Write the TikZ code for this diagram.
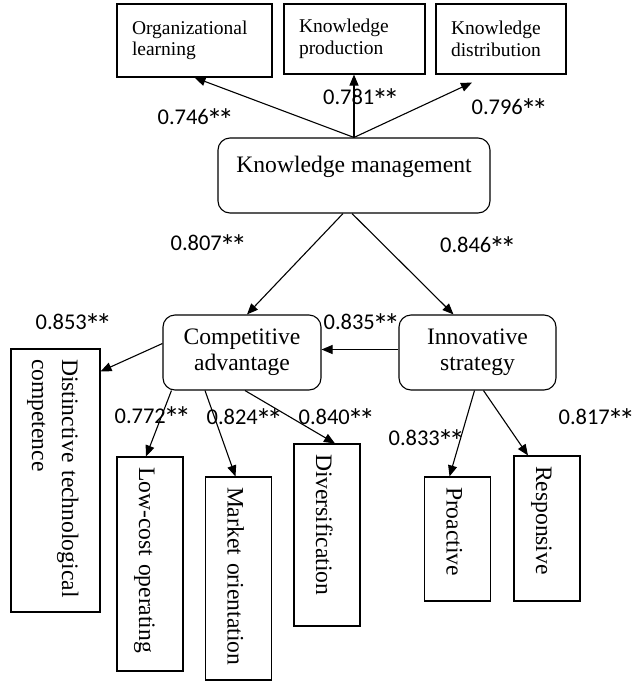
\documentclass[tikz,border=0pt]{standalone}
\usepackage{fontspec}
\setmainfont{Liberation Serif}
\newfontfamily\coeffont{Carlito}
\usetikzlibrary{arrows.meta,calc}
\newcommand\sigstar{\makebox[0.5em]{\smash{\raisebox{-0.29em}{\scalebox{1.43}{*}}}}}
\tikzset{
    kmmodel/.style={
        x=1pt, y=-1pt,
        every path/.style={line width=1.1pt},
        topbox/.style={draw, rectangle, align=left, inner xsep=15pt,
            font=\fontsize{19.5}{21.5}\selectfont},
        mainbox/.style={draw, rectangle, rounded corners=12pt, align=center,
            minimum height=75pt, font=\fontsize{23.6}{26}\selectfont},
        dimbox/.style={draw, rectangle, rotate=-90, align=left,
            inner xsep=10pt, inner ysep=0pt, text height=44pt, text depth=22pt,
            font=\fontsize{23.6}{30}\selectfont},
        coef/.style={inner sep=0pt, font=\coeffont\fontsize{22.5}{24}\selectfont},
        link/.style={-{Triangle[length=11pt, width=9pt]}},
    },
}
\begin{document}
\begin{tikzpicture}[kmmodel]
    \useasboundingbox (0,0) rectangle (635,681);

    \node[topbox, text width=125pt, minimum height=73pt] (org) at (194.5,40.5) {Organizational\\learning};
    \node[topbox, text width=111pt, minimum height=70pt] (kp)  at (354.5,39)   {Knowledge\\production};
    \node[topbox, text width=100pt, minimum height=70pt] (kd)  at (501,39)     {Knowledge\\distribution};

    \node[mainbox, minimum width=272pt, inner ysep=0pt, text height=34pt, text depth=41pt]
        (km) at (354,175.5) {Knowledge management};
    \node[mainbox, minimum width=158pt] (ca) at (242,352.5)   {Competitive\\advantage};
    \node[mainbox, minimum width=157pt] (is) at (477.5,352.5) {Innovative\\strategy};

    \node[dimbox, text width=243pt, text height=38pt, text depth=51pt]
        (dtc) at (55.5,480.5) {Distinctive technological\\competence};
    \node[dimbox, text width=194pt] (lowcost) at (150,564)   {Low-cost operating};
    \node[dimbox, text width=183pt] (mo)      at (238.5,578.5) {Market orientation};
    \node[dimbox, text width=162pt] (div)     at (327,535)   {Diversification};
    \node[dimbox, text width=104pt] (pro)     at (457.5,539) {Proactive};
    \node[dimbox, text width=125pt] (resp)    at (547,528.5) {Responsive};

    \coordinate (kdend) at ($(kd.south)+(-29,8)$);
    \draw[link] (km.north) -- (org.south);
    \draw[link] (km.north) -- (km.north |- kp.south);
    \draw[link] (km.north) -- (kdend);

    \draw[link] ([xshift=-11pt]km.south) -- ([xshift=5pt]ca.north);
    \draw[link] ([xshift=-2pt]km.south) -- ([xshift=-24pt]is.north);
    \draw[link] ([yshift=3pt]is.west) -- ([yshift=3pt]ca.east);

    \draw[link] ([yshift=9pt]ca.west) -- ($(dtc.north west)+(0,23)$);
    \draw[link] ([xshift=9pt]ca.south west) -- ([xshift=-4pt]lowcost.west);
    \draw[link] ([xshift=-37pt]ca.south) -- ([xshift=-3pt]mo.west);
    \draw[link] ([xshift=3pt]ca.south) -- ([xshift=8pt]div.west);
    \draw[link] ([xshift=-3pt]is.south) -- ([xshift=-8pt]pro.west);
    \draw[link] ([xshift=6pt]is.south) -- ([xshift=-19pt]resp.west);

    \node[coef] (corg)  at (194.5,117) {0.746\sigstar\sigstar};
    \node[coef] (ckp)   at (360,97)    {0.781\sigstar\sigstar};
    \node[coef] (ckd)   at (508.5,107) {0.796\sigstar\sigstar};
    \node[coef] (cca)   at (207.5,243) {0.807\sigstar\sigstar};
    \node[coef] (cis)   at (477,245)   {0.846\sigstar\sigstar};
    \node[coef] (cdtc)  at (72.5,322)  {0.853\sigstar\sigstar};
    \node[coef] (cisca) at (360.5,322) {0.835\sigstar\sigstar};
    \node[coef] (clow)  at (151.5,416) {0.772\sigstar\sigstar};
    \node[coef] (cmo)   at (243.5,417) {0.824\sigstar\sigstar};
    \node[coef] (cdiv)  at (335.5,417) {0.840\sigstar\sigstar};
    \node[coef] (cpro)  at (425.5,438) {0.833\sigstar\sigstar};
    \node[coef] (cresp) at (595.5,417) {0.817\sigstar\sigstar};
\end{tikzpicture}
\end{document}
